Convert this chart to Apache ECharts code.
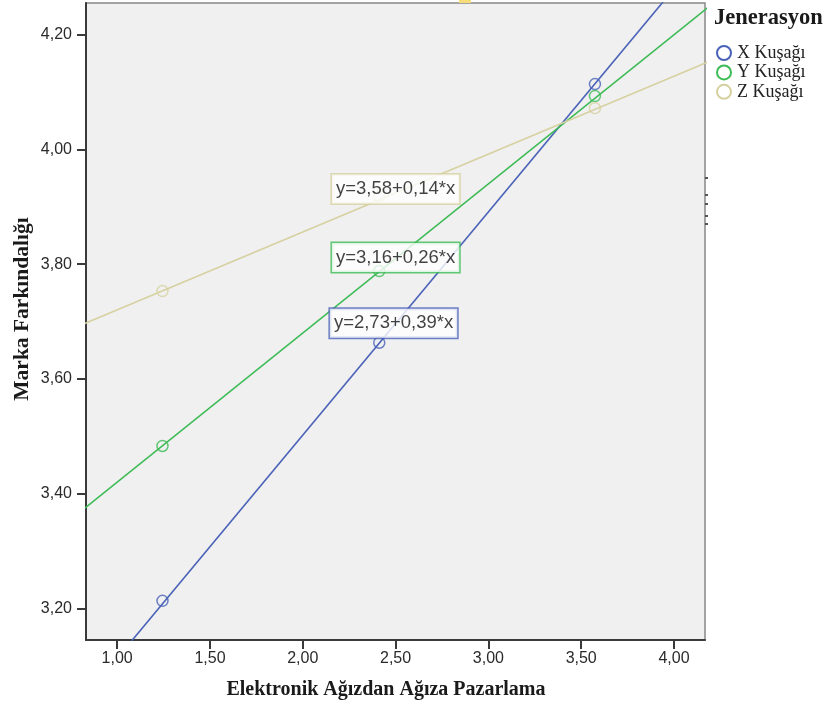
<!DOCTYPE html>
<html>
<head>
<meta charset="utf-8">
<script src="https://cdn.jsdelivr.net/npm/echarts@6/dist/echarts.min.js"></script>
<style>
html,body{margin:0;padding:0;background:#fff;}
#chart{width:825px;height:706px;}
</style>
</head>
<body>
<div id="chart"></div>
<script>
// ---- data ----
const groups = ['X Kuşağı', 'Y Kuşağı', 'Z Kuşağı'];
const pointsX = [[1.244, 3.213], [2.412, 3.663], [3.574, 4.114]];
const pointsY = [[1.244, 3.483], [2.412, 3.788], [3.574, 4.093]];
const pointsZ = [[1.244, 3.753], [2.412, 3.918], [3.574, 4.072]];
const fitX = [[0.8, 3.035], [4.2, 4.358]];
const fitY = [[0.8, 3.368], [4.2, 4.252]];
const fitZ = [[0.8, 3.693], [4.2, 4.155]];
const equations = ['y=2,73+0,39*x', 'y=3,16+0,26*x', 'y=3,58+0,14*x'];
const xTicks = [1.0, 1.5, 2.0, 2.5, 3.0, 3.5, 4.0];
const yTicks = [3.2, 3.4, 3.6, 3.8, 4.0, 4.2];
const xRange = [0.832, 4.167];
const yRange = [3.1447, 4.2553];
const xTitle = 'Elektronik Ağızdan Ağıza Pazarlama';
const yTitle = 'Marka Farkındalığı';
const legendTitle = 'Jenerasyon';

// ---- styling ----
const colors = ['#4a62b8', '#3dbb55', '#d6d1a0'];
const labelAnchors = [[2.489, 3.697], [2.50, 3.8116], [2.50, 3.931]];
const pointSets = [pointsX, pointsY, pointsZ];
const fitSets = [fitX, fitY, fitZ];
const SANS = 'Liberation Sans, Arial, sans-serif';
const SERIF = 'Liberation Serif, Times New Roman, serif';
const fmt = v => v.toFixed(2).replace('.', ',');

const series = [];
groups.forEach((g, i) => {
  series.push({
    name: g, type: 'line', data: fitSets[i], showSymbol: false, symbol: 'none',
    clip: true, silent: true, z: 2,
    lineStyle: { color: colors[i], width: 1.6 }
  });
});
groups.forEach((g, i) => {
  series.push({
    name: g, type: 'scatter', data: pointSets[i], symbol: 'circle', symbolSize: 11,
    z: 3,
    itemStyle: { color: 'transparent', borderColor: colors[i], borderWidth: 1.5 }
  });
});
groups.forEach((g, i) => {
  series.push({
    name: g + ' eq', type: 'scatter', data: [labelAnchors[i]], symbolSize: 0, z: 10,
    label: {
      show: true, position: 'inside', formatter: equations[i],
      fontFamily: SANS, fontSize: 18.5, color: '#111',
      backgroundColor: '#fff', borderColor: colors[i], borderWidth: 1.5,
      padding: [5, 4, 4, 4], lineHeight: 20
    }
  });
});

const chart = echarts.init(document.getElementById('chart'), null, { renderer: 'canvas' });
chart.setOption({
  animation: false,
  backgroundColor: '#fff',
  grid: {
    left: 86, top: 3, right: 120, bottom: 66,
    show: true, backgroundColor: '#f0f0f0', borderColor: '#888', borderWidth: 1.5
  },
  title: {
    text: legendTitle, left: 714, top: 7, padding: 0,
    textStyle: { fontFamily: SERIF, fontSize: 22.5, fontWeight: 'bold', color: '#1a1a1a' }
  },
  legend: {
    data: groups.map((g, i) => ({
      name: g, icon: 'circle',
      itemStyle: { color: 'transparent', borderColor: colors[i], borderWidth: 2 }
    })),
    orient: 'vertical', left: 716, top: 44, padding: 0,
    itemWidth: 14, itemHeight: 14, itemGap: 1.4,
    textStyle: { fontFamily: SERIF, fontSize: 18, lineHeight: 15, color: '#222', padding: [0, 0, 0, 1] }
  },
  xAxis: {
    type: 'value', min: xRange[0], max: xRange[1],
    splitLine: { show: false },
    axisLine: { show: true, onZero: false, lineStyle: { color: '#3a3a3a', width: 2 } },
    axisTick: { show: true, length: 9, customValues: xTicks, lineStyle: { color: '#3a3a3a', width: 2 } },
    axisLabel: { customValues: xTicks, formatter: fmt, margin: 11,
      fontFamily: SANS, fontSize: 16, color: '#2a2a2a' }
  },
  yAxis: {
    type: 'value', min: yRange[0], max: yRange[1],
    splitLine: { show: false },
    axisLine: { show: true, onZero: false, lineStyle: { color: '#3a3a3a', width: 2 } },
    axisTick: { show: true, length: 9, customValues: yTicks, lineStyle: { color: '#3a3a3a', width: 2 } },
    axisLabel: { customValues: yTicks, formatter: fmt, margin: 14,
      fontFamily: SANS, fontSize: 16, color: '#2a2a2a' }
  },
  graphic: [
    { type: 'text', x: 386, y: 690, style: { text: xTitle, font: 'bold 20px ' + SERIF,
      fill: '#1a1a1a', textAlign: 'center', textVerticalAlign: 'middle' } },
    { type: 'text', x: 22, y: 309, rotation: Math.PI / 2, style: { text: yTitle, font: 'bold 21.5px ' + SERIF,
      fill: '#1a1a1a', textAlign: 'center', textVerticalAlign: 'middle' } },
    { type: 'rect', shape: { x: 459, y: 0, width: 12, height: 3 }, style: { fill: '#f7dc7a' }, z: 100 },
    { type: 'rect', shape: { x: 705, y: 177, width: 3, height: 2 }, style: { fill: '#555' }, z: 100 },
    { type: 'rect', shape: { x: 705, y: 194, width: 3, height: 2 }, style: { fill: '#555' }, z: 100 },
    { type: 'rect', shape: { x: 705, y: 203, width: 3, height: 2 }, style: { fill: '#555' }, z: 100 },
    { type: 'rect', shape: { x: 705, y: 215, width: 3, height: 2 }, style: { fill: '#555' }, z: 100 },
    { type: 'rect', shape: { x: 705, y: 223, width: 3, height: 2 }, style: { fill: '#555' }, z: 100 }
  ],
  series: series
});
</script>
</body>
</html>
